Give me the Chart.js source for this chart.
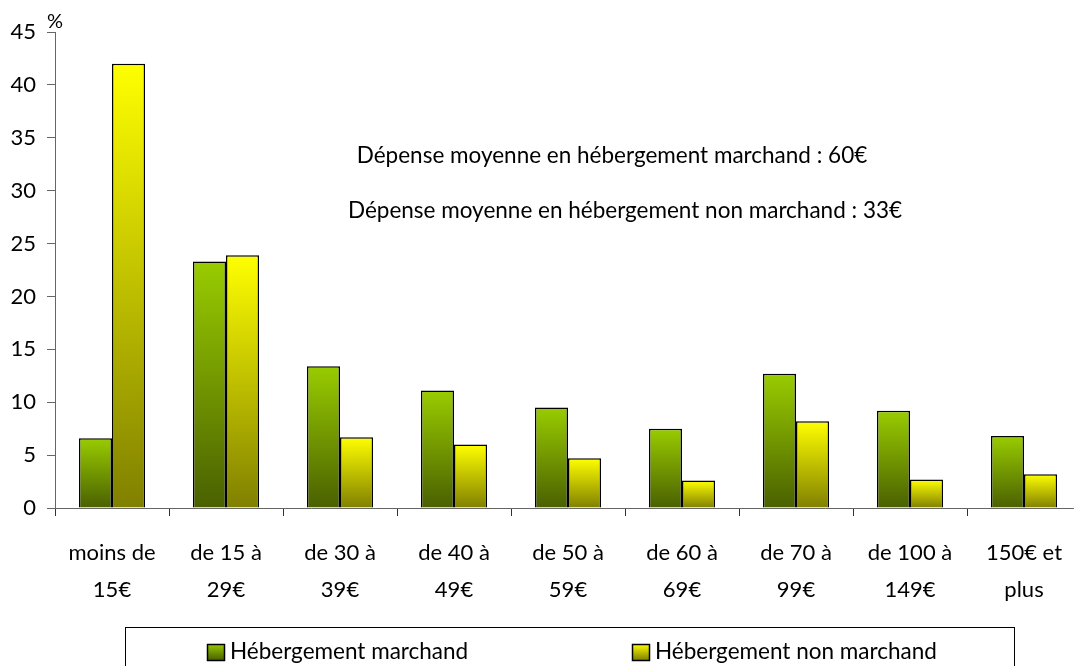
<!DOCTYPE html>
<html>
<head>
<meta charset="utf-8">
<script src="https://cdn.jsdelivr.net/npm/chart.js@4/dist/chart.umd.min.js"></script>
<style>
  html, body { margin: 0; padding: 0; background: #fff; overflow: hidden; }
  #wrap { position: relative; width: 1090px; height: 666px; }
</style>
</head>
<body>
<div id="wrap"><canvas id="chart" width="1090" height="666"></canvas></div>
<script>
// categories (two-line labels)
const categories = [
  ['moins de', '15€'], ['de 15 à', '29€'], ['de 30 à', '39€'], ['de 40 à', '49€'],
  ['de 50 à', '59€'], ['de 60 à', '69€'], ['de 70 à', '99€'], ['de 100 à', '149€'], ['150€ et', 'plus']
];
const marchand    = [6.6, 23.3, 13.4, 11.1, 9.5, 7.5, 12.7, 9.2, 6.8];
const nonMarchand = [42.0, 23.9, 6.7, 6.0, 4.7, 2.6, 8.2, 2.7, 3.2];
const seriesNames = ['Hébergement marchand', 'Hébergement non marchand'];
const notes = [
  'Dépense moyenne en hébergement marchand : 60€',
  'Dépense moyenne en hébergement non marchand : 33€'
];

const FONT = 'Lato, "Open Sans", sans-serif';

/* ─── per-bar vertical gradient ─── */
function barGradient(top, bottom) {
  return (ctx) => {
    const chart = ctx.chart;
    if (!chart.chartArea || ctx.dataIndex === undefined) return top;
    const y = chart.scales.y;
    const v = ctx.dataset.data[ctx.dataIndex];
    const y0 = y.getPixelForValue(v), y1 = y.getPixelForValue(0);
    const g = chart.ctx.createLinearGradient(0, y0, 0, y1);
    g.addColorStop(0, top);
    g.addColorStop(1, bottom);
    return g;
  };
}

/* ─── notes, % sign and boxed legend ─── */
const extras = {
  id: 'extras',
  afterDraw(chart) {
    const c = chart.ctx;
    c.save();
    c.fillStyle = '#000';
    c.textBaseline = 'middle';
    c.textAlign = 'center';
    c.font = '22.5px ' + FONT;
    c.fillText(notes[0], 612, 156);
    c.fillText(notes[1], 625, 211);
    c.font = '20px ' + FONT;
    c.fillText('%', 55, 22);

    // legend box
    c.strokeStyle = '#000';
    c.lineWidth = 1;
    c.strokeRect(125.5, 627.5, 889, 60);
    const items = [
      { x: 207, top: '#99cc00', bot: '#4a6000' },
      { x: 632, top: '#ffff00', bot: '#808000' }
    ];
    c.textAlign = 'left';
    c.font = '22.5px ' + FONT;
    items.forEach((it, i) => {
      const g = c.createLinearGradient(0, 644, 0, 660);
      g.addColorStop(0, it.top);
      g.addColorStop(1, it.bot);
      c.fillStyle = g;
      c.fillRect(it.x, 644, 17, 16);
      c.lineWidth = 1.5;
      c.strokeRect(it.x + 0.5, 644.5, 17, 16);
      c.fillStyle = '#000';
      c.fillText(seriesNames[i], it.x + 23, 652);
    });
    c.restore();
  }
};

new Chart(document.getElementById('chart'), {
  type: 'bar',
  data: {
    labels: categories,
    datasets: [
      {
        label: seriesNames[0],
        data: marchand,
        backgroundColor: barGradient('#99cc00', '#4a6000'),
        borderColor: '#000',
        borderWidth: 1.5,
        categoryPercentage: 0.58,
        barPercentage: 1
      },
      {
        label: seriesNames[1],
        data: nonMarchand,
        backgroundColor: barGradient('#ffff00', '#808000'),
        borderColor: '#000',
        borderWidth: 1.5,
        categoryPercentage: 0.58,
        barPercentage: 1
      }
    ]
  },
  options: {
    responsive: false,
    animation: false,
    layout: { padding: { top: 32, left: 0, right: 9, bottom: 0 } },
    plugins: { legend: { display: false }, tooltip: { enabled: false } },
    scales: {
      x: {
        afterFit: s => { s.height = 158; },
        border: { color: '#666', width: 1 },
        grid: { drawOnChartArea: false, tickLength: 8, color: '#333', offset: true },
        ticks: {
          color: '#000',
          padding: 18,
          maxRotation: 0,
          autoSkip: false,
          font: { family: FONT, size: 22, lineHeight: 1.68 }
        }
      },
      y: {
        min: 0,
        max: 45,
        afterFit: s => { s.width = 55; },
        border: { color: '#666', width: 1 },
        grid: { drawOnChartArea: false, tickLength: 8, color: '#666' },
        ticks: {
          stepSize: 5,
          color: '#000',
          padding: 11,
          font: { family: FONT, size: 22 }
        }
      }
    }
  },
  plugins: [extras]
});
</script>
</body>
</html>
